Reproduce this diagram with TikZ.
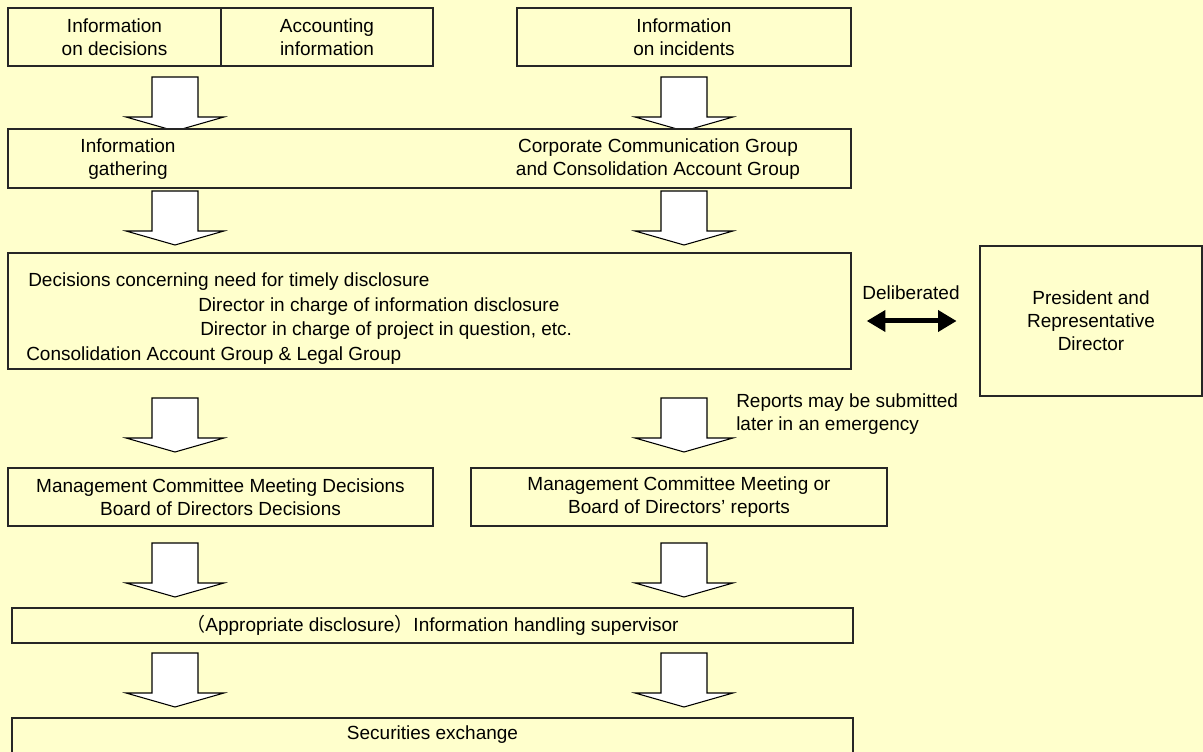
\documentclass[tikz,border=0pt]{standalone}
\usepackage{fontspec}
\setmainfont{Liberation Sans}
\newfontfamily\cjkfont{Noto Sans CJK JP}
\usetikzlibrary{arrows.meta}
\definecolor{bgyellow}{RGB}{255,255,204}

\tikzset{
  box/.style={draw=black!85, line width=1pt, fill=bgyellow, inner sep=0pt},
  size/.style 2 args={minimum width=#1*0.75pt, minimum height=#2*0.75pt},
  txt/.style={inner sep=0.75pt, align=center, font=\fontsize{14.25}{17.25}\selectfont},
  arrowshape/.style={draw=black, line width=0.8pt, fill=white, line join=miter},
  dblarrow/.style={line width=3.75pt, {Triangle[length=14pt,width=15.5pt]}-{Triangle[length=14pt,width=15.5pt]}},
  % pics do not take over the picture's yscale=-1, so y runs upward here
  downarrow/.pic={\draw[arrowshape] (-23,0) -- (23,0) -- (23,-40) -- (49,-40) -- (0,-54) -- (-49,-40) -- (-23,-40) -- cycle;}
}

\begin{document}
\begin{tikzpicture}[x=0.75pt,y=0.75pt,yscale=-1,xscale=1]
%set diagram left start at 0, and has height of 752
\clip (0,0) rectangle (1203,752);
\fill[bgyellow] (0,0) rectangle (1203,752);

%Shape: Rectangle (top row)
\node[box, txt, size={213}{58}] (decinfo) at (114.5,37) {Information\\on decisions};
\node[box, txt, size={212}{58}] (accinfo) at (327,37) {Accounting\\information};
\node[box, txt, size={334}{58}] (incinfo) at (684,37) {Information\\on incidents};

%Block arrows
\pic at (175,77) {downarrow};
\pic at (684,77) {downarrow};

%Shape: Rectangle (gathering)
\node[box, size={843}{59}] (gather) at (429.5,158.5) {};
% Text Node
\node[txt] (gathertxt) at (128,159) {Information\\gathering};
% Text Node
\node[txt] (ccgtxt) at (658,159) {Corporate Communication Group\\and Consolidation Account Group};

\pic at (175,191) {downarrow};
\pic at (684,191) {downarrow};

%Shape: Rectangle (decisions)
\node[box, size={843}{116}] (decide) at (429.5,311) {};
% Text Node
\node[txt, anchor=west] (dec1) at (27,282) {Decisions concerning need for timely disclosure};
% Text Node
\node[txt, anchor=west] (dec2) at (197,307) {Director in charge of information disclosure};
% Text Node
\node[txt, anchor=west] (dec3) at (199,331) {Director in charge of project in question, etc.};
% Text Node
\node[txt, anchor=west] (dec4) at (25,356) {Consolidation Account Group \& Legal Group};

%Shape: Rectangle (president)
\node[box, txt, size={222}{150}] (pres) at (1091,321) {President and\\Representative\\Director};

% Deliberated
\draw[dblarrow, shorten <=11.25pt, shorten >=17pt] (decide.east |- pres.west) -- (pres.west);
\node[txt] (delib) at (911,293) {Deliberated};

\pic at (175,398) {downarrow};
\pic at (684,398) {downarrow};
% Text Node
\node[txt, anchor=west, align=left] (emerg) at (735,414.5) {Reports may be submitted\\later in an emergency};

%Shape: Rectangle (committee row)
\node[box, txt, size={425}{58}] (mcdec) at (220.5,497) {Management Committee Meeting Decisions\\Board of Directors Decisions};
\node[box, txt, size={416}{58}] (mcrep) at (679,497) {Management Committee Meeting or\\Board of Directors’ reports};

\pic at (175,543) {downarrow};
\pic at (684,543) {downarrow};

%Shape: Rectangle (supervisor)
\node[box, txt, size={841}{35}] (superv) at (432.5,625.5) {{\cjkfont （}Appropriate disclosure{\cjkfont ）}Information handling supervisor};

\pic at (175,653) {downarrow};
\pic at (684,653) {downarrow};

%Shape: Rectangle (exchange)
\node[box, size={841}{60}] (exch) at (432.5,748) {};
% Text Node
\node[txt] (exchtxt) at (432.5,735) {Securities exchange};

\end{tikzpicture}
\end{document}
